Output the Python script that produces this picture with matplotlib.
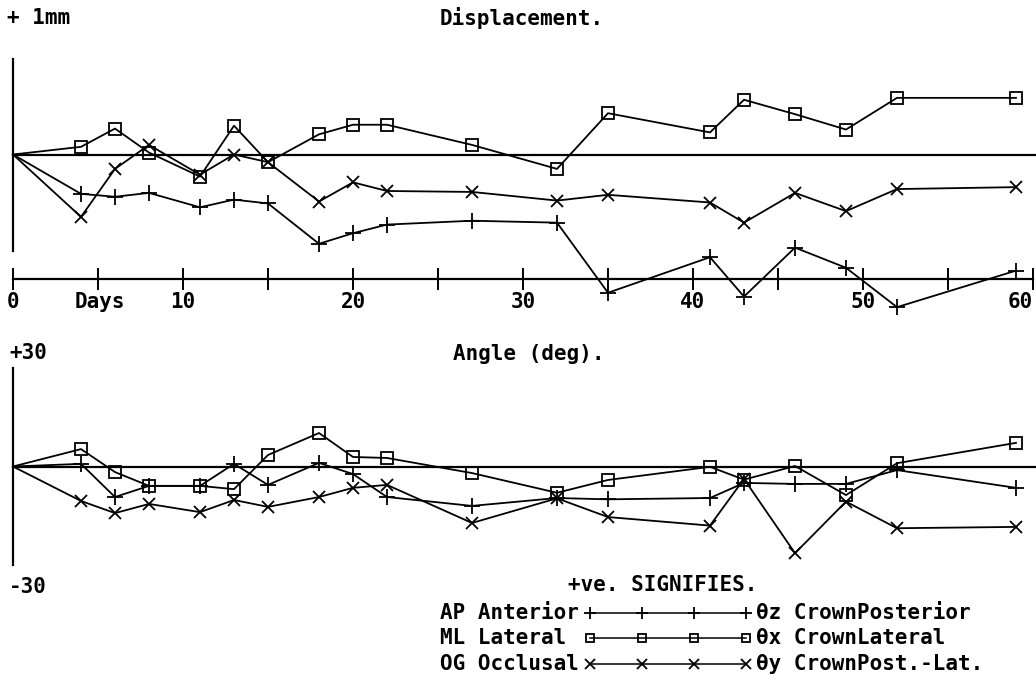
import matplotlib
matplotlib.use('Agg')
import matplotlib.pyplot as plt
from matplotlib.lines import Line2D

# ---------------- data ----------------
days = [0, 4, 6, 8, 11, 13, 15, 18, 20, 22, 27, 32, 35, 41, 43, 46, 49, 52, 59]

# Displacement (mm)
disp_ap = [0, -0.41, -0.44, -0.40, -0.55, -0.47, -0.51, -0.93, -0.82, -0.73, -0.69,
           -0.71, -1.44, -1.07, -1.48, -0.97, -1.18, -1.59, -1.21]
disp_ml = [0, 0.08, 0.27, 0.02, -0.23, 0.30, -0.08, 0.21, 0.31, 0.31, 0.10,
           -0.15, 0.43, 0.23, 0.57, 0.42, 0.26, 0.59, 0.59]
disp_og = [0, -0.65, -0.15, 0.10, -0.21, 0.0, -0.08, -0.49, -0.29, -0.38, -0.39,
           -0.48, -0.42, -0.50, -0.71, -0.40, -0.59, -0.36, -0.34]

# Angle (deg)
ang_ap = [0, 0.8, -9.3, -5.9, -5.9, 0.8, -5.6, 1.1, -2.3, -9.3, -12.0,
          -9.6, -10.0, -9.6, -5.0, -5.3, -5.3, -1.1, -6.5]
ang_ml = [0, 5.3, -1.7, -5.9, -5.9, -6.9, 3.5, 10.2, 2.9, 2.6, -2.0,
          -8.0, -4.1, -0.1, -4.0, 0.15, -8.7, 1.0, 7.2]
ang_og = [0, -10.5, -14.2, -11.4, -13.9, -10.2, -12.3, -9.3, -6.5, -5.6, -17.2,
          -9.7, -15.4, -18.0, -3.8, -26.4, -10.7, -18.8, -18.4]

day_ticks = [0, 5, 10, 15, 20, 25, 30, 35, 40, 45, 50, 55, 60]
day_labels = {0: "0", 10: "10", 20: "20", 30: "30", 40: "40", 50: "50", 60: "60"}

# ---------------- layout ----------------
W, H = 1036, 678
X0, PXD = 13.0, 17.0            # pixel of day 0, pixels per day
Y0_TOP, PXMM = 154.5, 96.0      # zero line of displacement, px per mm
Y0_BOT, PXDEG = 466.5, 3.283    # zero line of angle, px per degree
SPLIT = 330.0

FONT = dict(family='DejaVu Sans Mono', fontweight='bold', fontsize=15, color='black')
LW = 1.3

fig = plt.figure(figsize=(W / 100, H / 100), dpi=100)
fig.patch.set_facecolor('white')

def fx(px):
    return px / W

def fy(py):
    return 1 - py / H

xl = ((0 - X0) / PXD, (W - X0) / PXD)
ax1 = fig.add_axes([0, fy(SPLIT), 1, SPLIT / H])
ax1.set_xlim(*xl)
ax1.set_ylim((Y0_TOP - SPLIT) / PXMM, Y0_TOP / PXMM)
ax2 = fig.add_axes([0, 0, 1, (H - SPLIT) / H])
ax2.set_xlim(*xl)
ax2.set_ylim((Y0_BOT - H) / PXDEG, (Y0_BOT - SPLIT) / PXDEG)
for ax in (ax1, ax2):
    ax.axis('off')
    ax.patch.set_alpha(0)

styles = {
    'ap': dict(marker='+', markersize=11, markeredgewidth=1.3),
    'ml': dict(marker='s', markersize=8, markerfacecolor='none', markeredgewidth=1.3),
    'og': dict(marker='x', markersize=9, markeredgewidth=1.3),
}
every = list(range(1, len(days)))   # no marker at the starting point

# ---- top panel ----
ax1.plot([0, 0], [-1, 1], color='black', lw=1.6, clip_on=False)
ax1.plot([0, xl[1]], [0, 0], color='black', lw=1.6, clip_on=False)
yaxis_days = (Y0_TOP - 279) / PXMM
tick_h = 10 / PXMM
ax1.plot([0, 60], [yaxis_days, yaxis_days], color='black', lw=1.6, clip_on=False)
for t in day_ticks:
    ax1.plot([t, t], [yaxis_days - tick_h, yaxis_days + tick_h], color='black', lw=1.4,
             clip_on=False)
lab_y = (Y0_TOP - 302) / PXMM
for t, s in day_labels.items():
    ha = 'right' if t == 60 else 'center'
    xt = 60.0 if t == 60 else t
    ax1.text(xt, lab_y, s, ha=ha, va='center', **FONT)
ax1.text(5.1, lab_y, "Days", ha='center', va='center', **FONT)

ax1.plot(days, disp_ap, color='black', lw=LW, clip_on=False, markevery=every, **styles['ap'])
ax1.plot(days, disp_ml, color='black', lw=LW, clip_on=False, markevery=every, **styles['ml'])
ax1.plot(days, disp_og, color='black', lw=LW, clip_on=False, markevery=every, **styles['og'])

# ---- bottom panel ----
ax2.plot([0, 0], [-30, 30], color='black', lw=1.6, clip_on=False)
ax2.plot([0, xl[1]], [0, 0], color='black', lw=1.6, clip_on=False)
ax2.plot(days, ang_ap, color='black', lw=LW, clip_on=False, markevery=every, **styles['ap'])
ax2.plot(days, ang_ml, color='black', lw=LW, clip_on=False, markevery=every, **styles['ml'])
ax2.plot(days, ang_og, color='black', lw=LW, clip_on=False, markevery=every, **styles['og'])

# ---- texts ----
fig.text(fx(7), fy(18), "+ 1mm", ha='left', va='center', **FONT)
fig.text(fx(440), fy(18), "Displacement.", ha='left', va='center', **FONT)
fig.text(fx(9), fy(353), "+30", ha='left', va='center', **FONT)
fig.text(fx(9), fy(587), "-30", ha='left', va='center', **FONT)
fig.text(fx(453), fy(354), "Angle (deg).", ha='left', va='center', **FONT)
fig.text(fx(568), fy(585), "+ve. SIGNIFIES.", ha='left', va='center', **FONT)

legend_rows = [
    ("AP Anterior", "\u03b8z CrownPosterior", 'ap', 613),
    ("ML Lateral", "\u03b8x CrownLateral", 'ml', 638),
    ("OG Occlusal", "\u03b8y CrownPost.-Lat.", 'og', 664),
]
key_x = [590, 642, 694, 746]
for left, right, key, py in legend_rows:
    fig.text(fx(440), fy(py), left, ha='left', va='center', **FONT)
    fig.text(fx(756), fy(py), right, ha='left', va='center', **FONT)
    st = dict(styles[key])
    st['markersize'] = st['markersize'] * 0.75
    fig.add_artist(Line2D([fx(x) for x in key_x], [fy(py)] * 4, color='black',
                          lw=1.1, transform=fig.transFigure, **st))

fig.savefig('out.png', dpi=100, facecolor='white')
